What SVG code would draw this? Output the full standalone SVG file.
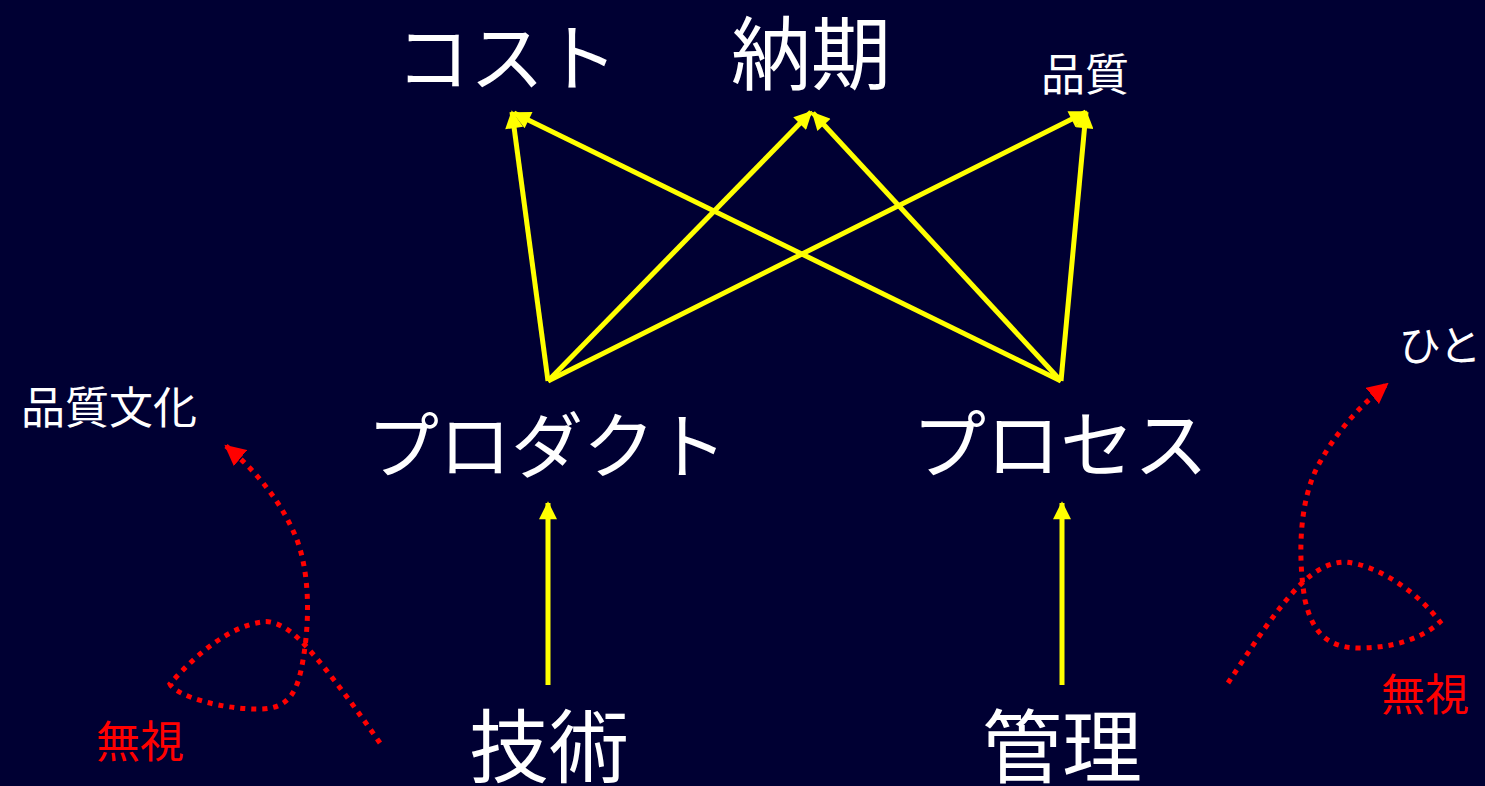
<svg xmlns="http://www.w3.org/2000/svg" width="1485" height="786" viewBox="0 0 1485 786">
<style>
.t{font-family:"Noto Sans CJK JP","Noto Sans CJK SC",sans-serif;fill:#fff;text-anchor:middle}
.r{fill:#f00}
.y{stroke:#ff0;stroke-width:5;fill:none;marker-end:url(#ya)}
.d{stroke:#f00;stroke-width:5;fill:none;stroke-dasharray:5 6}
</style>
<defs>
<marker id="ya" viewBox="0 0 10 10" refX="9" refY="5" markerWidth="4" markerHeight="3.6" orient="auto" markerUnits="strokeWidth"><path d="M0,0L10,5L0,10z" fill="#ff0"/></marker>
<marker id="ra" viewBox="0 0 10 10" refX="9" refY="5" markerWidth="4.2" markerHeight="4.2" orient="auto" markerUnits="strokeWidth"><path d="M0,0L10,5L0,10z" fill="#f00"/></marker>
</defs>
<rect width="1485" height="786" fill="#000033"/>
<g id="cost"><text class="t" x="507" y="85" font-size="74">コスト</text></g>
<g id="noki"><text class="t" x="811" y="83" font-size="80">納期</text></g>
<g id="hinshitsu"><text class="t" x="1085" y="91" font-size="44">品質</text></g>
<g id="product"><text class="t" x="547" y="472" font-size="72">プロダクト</text></g>
<g id="process"><text class="t" x="1060" y="472" font-size="74">プロセス</text></g>
<g id="gijutsu"><text class="t" x="549" y="776" font-size="80">技術</text></g>
<g id="kanri"><text class="t" x="1062" y="776" font-size="80">管理</text></g>
<g id="bunka"><text class="t" x="109" y="424" font-size="44">品質文化</text></g>
<g id="hito"><text class="t" x="1440" y="361" font-size="42">ひと</text></g>
<g id="mushi1"><text class="t r" x="140" y="758" font-size="44">無視</text></g>
<g id="mushi2"><text class="t r" x="1425" y="711" font-size="44">無視</text></g>
<g id="connectors">
<line class="y" x1="548" y1="381" x2="512" y2="112"/>
<line class="y" x1="548" y1="381" x2="811" y2="112"/>
<line class="y" x1="548" y1="381" x2="1086" y2="112"/>
<line class="y" x1="1061" y1="381" x2="514" y2="113"/>
<line class="y" x1="1061" y1="381" x2="813" y2="113"/>
<line class="y" x1="1061" y1="381" x2="1086" y2="112"/>
<line class="y" x1="548" y1="685" x2="548" y2="503"/>
<line class="y" x1="1062" y1="685" x2="1062" y2="503"/>
<path class="d" marker-end="url(#ra)" d="M380,743 C350,700 320,660 300,640 C285,625 270,620 262,622 C230,626 195,655 170,684 C175,695 220,710 262,709 C290,708 298,690 303,660 C310,620 310,570 295,535 C280,500 255,470 226,446"/>
<path class="d" marker-end="url(#ra)" d="M1228,683 C1250,650 1275,610 1300,585 C1315,570 1330,562 1345,562 C1380,565 1420,595 1440,622 C1420,640 1390,648 1360,648 C1325,648 1312,630 1305,600 C1298,560 1298,500 1320,462 C1335,435 1355,410 1387,384"/>
</g>
</svg>
